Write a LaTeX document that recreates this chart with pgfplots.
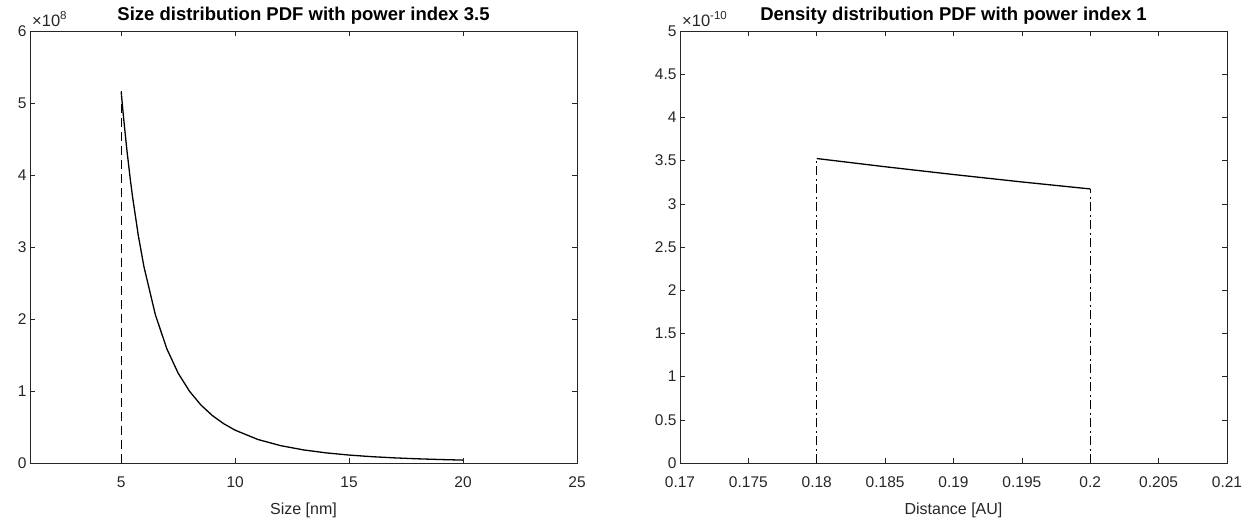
\documentclass[border=0pt]{standalone}
\usepackage{pgfplots}
\pgfplotsset{compat=1.18}
\usepackage{fontspec}
\setmainfont{Liberation Sans}
\definecolor{axgray}{gray}{0.15}

\pgfplotsset{
  mlstyle/.style={
    scale only axis, width=547pt, height=432pt,
    anchor=south west,
    axis line style={axgray, line width=0.6pt},
    tick style={axgray, line width=0.6pt},
    major tick length=5pt,
    tick align=inside,
    tick label style={font=\fontsize{15.5}{18}\selectfont, text=axgray},
    xticklabel style={yshift=-10pt},
    xlabel style={font=\fontsize{16}{19}\selectfont, text=axgray,
      at={(axis description cs:0.5,0)}, anchor=base, yshift=-51pt},
    title style={font=\fontsize{18.5}{21}\selectfont\bfseries, text=black,
      at={(axis description cs:0.5,1)}, anchor=base, yshift=5pt},
    scaled ticks=false,
    clip=false,
  },
}

\begin{document}
\begin{tikzpicture}
\path[use as bounding box] (0,0) rectangle (1259pt,-523pt);

% Size distribution, power index 3.5
\begin{axis}[mlstyle,
  at={(30pt,-463pt)},
  xmin=1, xmax=25, ymin=0, ymax=6e8,
  xtick={5,10,15,20,25}, xticklabels={5,10,15,20,25},
  ytick={0,1e8,2e8,3e8,4e8,5e8,6e8}, yticklabels={0,1,2,3,4,5,6},
  xlabel={Size [nm]},
  title={Size distribution PDF with power index 3.5},
]
\addplot[black, line width=1.3pt, dash pattern=on 9pt off 5pt] coordinates {(5,0) (5,5.16e8)};
\addplot[black, line width=1.3pt] coordinates {
  (5,5.16e8) (5.1,4.814e8) (5.25,4.350e8) (5.4,3.942e8) (5.5,3.697e8)
  (5.75,3.164e8) (6,2.726e8) (6.5,2.060e8) (7,1.589e8) (7.5,1.248e8)
  (8,0.9959e8) (8.5,0.8054e8) (9,0.6594e8) (9.5,0.5458e8) (10,0.4561e8)
  (11,0.3267e8) (12,0.2409e8) (13,0.1820e8) (14,0.1405e8) (15,0.1103e8)
  (16,0.0880e8) (17,0.0712e8) (18,0.0583e8) (19,0.0483e8) (20,0.0403e8)
};
\node[anchor=base west, font=\fontsize{16.5}{19}\selectfont, text=axgray, inner sep=0pt]
  at (rel axis cs:0,1) [xshift=2pt, yshift=5pt] {×10\textsuperscript{8}};
\end{axis}

% Density distribution, power index 1
\begin{axis}[mlstyle,
  at={(680pt,-463pt)},
  xmin=0.17, xmax=0.21, ymin=0, ymax=5e-10,
  xtick={0.17,0.175,0.18,0.185,0.19,0.195,0.2,0.205,0.21},
  xticklabels={0.17,0.175,0.18,0.185,0.19,0.195,0.2,0.205,0.21},
  ytick={0,0.5e-10,1e-10,1.5e-10,2e-10,2.5e-10,3e-10,3.5e-10,4e-10,4.5e-10,5e-10},
  yticklabels={0,0.5,1,1.5,2,2.5,3,3.5,4,4.5,5},
  xlabel={Distance [AU]},
  title={Density distribution PDF with power index 1},
]
\addplot[black, line width=1.3pt, dash pattern=on 9pt off 3.5pt on 2pt off 3.5pt] coordinates {(0.18,0) (0.18,3.524e-10)};
\addplot[black, line width=1.3pt, dash pattern=on 9pt off 3.5pt on 2pt off 3.5pt] coordinates {(0.2,0) (0.2,3.172e-10)};
\addplot[black, line width=1.3pt] coordinates {
  (0.18,3.524e-10) (0.185,3.429e-10) (0.19,3.339e-10) (0.195,3.253e-10) (0.2,3.172e-10)
};
\node[anchor=base west, font=\fontsize{16.5}{19}\selectfont, text=axgray, inner sep=0pt]
  at (rel axis cs:0,1) [xshift=2pt, yshift=5pt] {×10\textsuperscript{-10}};
\end{axis}
\end{tikzpicture}
\end{document}
